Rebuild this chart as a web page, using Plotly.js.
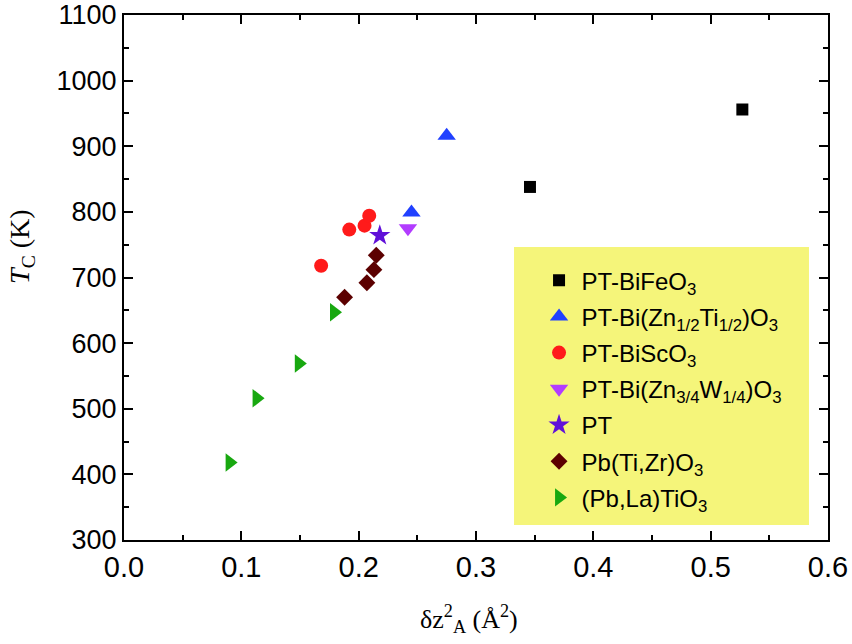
<!DOCTYPE html>
<html>
<head>
<meta charset="utf-8">
<script src="https://cdn.plot.ly/plotly-3.0.1.min.js"></script>
<style>html,body{margin:0;padding:0;background:#fff}#chart{width:852px;height:644px}</style>
</head>
<body>
<div id="chart"></div>
<script>
// Data
const bifeoX = [0.346, 0.527];
const bifeoY = [838, 956];
const bztX = [0.245, 0.275];
const bztY = [799, 916];
const bscX = [0.168, 0.192, 0.205, 0.209];
const bscY = [718, 773, 779, 794];
const bzwX = [0.242];
const bzwY = [775];
const ptX = [0.218];
const ptY = [764];
const pztX = [0.188, 0.207, 0.213, 0.215];
const pztY = [670, 692, 712, 734];
const pltX = [0.090, 0.113, 0.149, 0.179];
const pltY = [418, 516, 569, 647];

const names = [
  'PT-BiFeO<sub>3</sub>',
  'PT-Bi(Zn<sub>1/2</sub>Ti<sub>1/2</sub>)O<sub>3</sub>',
  'PT-BiScO<sub>3</sub>',
  'PT-Bi(Zn<sub>3/4</sub>W<sub>1/4</sub>)O<sub>3</sub>',
  'PT',
  'Pb(Ti,Zr)O<sub>3</sub>',
  '(Pb,La)TiO<sub>3</sub>'
];

const xTicks = [0.0, 0.1, 0.2, 0.3, 0.4, 0.5, 0.6];
const xTickText = ['0.0', '0.1', '0.2', '0.3', '0.4', '0.5', '0.6'];
const yTicks = [300, 400, 500, 600, 700, 800, 900, 1000, 1100];

function tr(x, y, name, symbol, color, size, g) {
  return {x: x, y: y, name: name, type: 'scatter', mode: 'markers', legendgroup: g,
    marker: {symbol: symbol, color: color, size: size, line: {width: 0}}};
}

const data = [
  tr(bifeoX, bifeoY, names[0], 'square', '#000000', 12, 'a'),
  tr(bztX, bztY, names[1], 'triangle-up', '#2040ff', 16, 'b'),
  tr(bscX, bscY, names[2], 'circle', '#ff1a1a', 14, 'c'),
  tr(bzwX, bzwY, names[3], 'triangle-down', '#b23cff', 16, 'd'),
  tr(ptX, ptY, names[4], 'star', '#6010d8', 16, 'e'),
  tr(pztX, pztY, names[5], 'diamond', '#5c0000', 13, 'f'),
  tr(pltX, pltY, names[6], 'triangle-right', '#18a810', 16, 'g')
];

const axisCommon = {
  showline: true, linecolor: '#000', linewidth: 2, mirror: 'ticks',
  ticks: 'inside', ticklen: 9, tickwidth: 2, tickcolor: '#000',
  showgrid: false, zeroline: false
};

const layout = {
  width: 852, height: 644,
  margin: {l: 124, r: 24, t: 15, b: 104},
  paper_bgcolor: '#fff', plot_bgcolor: '#fff',
  showlegend: true,
  legend: {
    x: 0.586, y: 0.537, xanchor: 'left', yanchor: 'top',
    bgcolor: 'rgba(0,0,0,0)', borderwidth: 0, itemwidth: 35,
    font: {family: 'Liberation Sans, Arial, sans-serif', size: 24, color: '#000'},
    tracegroupgap: 2, itemsizing: 'trace'
  },
  shapes: [{
    type: 'rect', xref: 'paper', yref: 'paper', layer: 'below',
    x0: 0.554, x1: 0.973, y0: 0.0286, y1: 0.558,
    fillcolor: '#f5f57a', line: {width: 0}
  }],
  xaxis: Object.assign({}, axisCommon, {
    range: [0, 0.6], tickvals: xTicks, ticktext: xTickText,
    minor: {dtick: 0.05, tick0: 0, ticks: 'inside', ticklen: 5, tickwidth: 2, tickcolor: '#000'},
    tickfont: {family: 'Liberation Sans, Arial, sans-serif', size: 29, color: '#000'}
  }),
  yaxis: Object.assign({}, axisCommon, {
    range: [300, 1100], tickvals: yTicks,
    minor: {dtick: 50, tick0: 300, ticks: 'inside', ticklen: 5, tickwidth: 2, tickcolor: '#000'},
    tickfont: {family: 'Liberation Sans, Arial, sans-serif', size: 27, color: '#000'}
  }),
  annotations: [{
    xref: 'paper', yref: 'paper', x: -0.145, y: 0.56, xanchor: 'center', yanchor: 'middle',
    textangle: -90, showarrow: false,
    text: '<i>T</i><sub>C</sub> (K)',
    font: {family: 'Liberation Serif, Times New Roman, serif', size: 28, color: '#000'}
  }, {
    xref: 'paper', yref: 'paper', x: 0.490, y: -0.150, xanchor: 'center', yanchor: 'middle',
    showarrow: false,
    text: 'δz<sup>2</sup><sub>A</sub> (Å<sup>2</sup>)',
    font: {family: 'Liberation Serif, Times New Roman, serif', size: 26, color: '#000'}
  }]
};

Plotly.newPlot('chart', data, layout, {displayModeBar: false, staticPlot: true});
</script>
</body>
</html>
